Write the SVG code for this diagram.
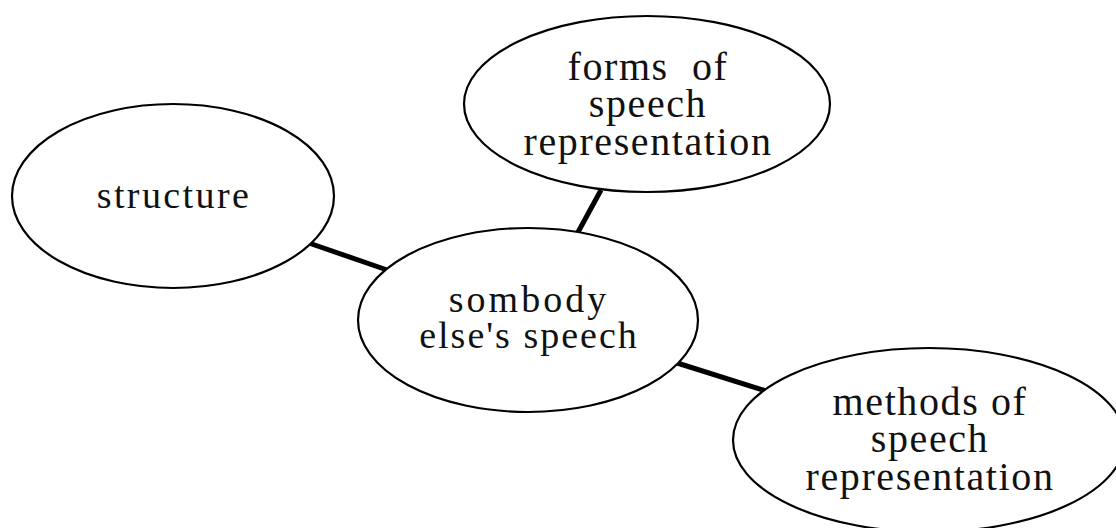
<svg xmlns="http://www.w3.org/2000/svg" width="1116" height="528" viewBox="0 0 1116 528">
<style>
.node ellipse{fill:#fff;stroke:#000;stroke-width:2.2}
.conn line{stroke:#000;stroke-width:5}
text{font-family:"Liberation Serif","Times New Roman",serif;fill:#111;text-anchor:middle;white-space:pre}
.big{font-size:40px;letter-spacing:1.6px}
.mid{font-size:38px}
</style>
<rect width="1116" height="528" fill="#fff"/>
<g id="connectors" class="conn">
<line x1="306" y1="242" x2="390" y2="271"/>
<line x1="601" y1="190" x2="577" y2="234"/>
<line x1="674" y1="362" x2="766" y2="391"/>
</g>
<g id="node-structure" class="node">
<ellipse cx="173" cy="196" rx="161" ry="92"/>
<text class="mid" x="174" y="208" letter-spacing="2.4">structure</text>
</g>
<g id="node-forms" class="node">
<ellipse cx="647" cy="104" rx="183" ry="88"/>
<text class="big" x="648" y="80">forms  of</text>
<text class="big" x="648" y="117">speech</text>
<text class="big" x="648" y="155">representation</text>
</g>
<g id="node-center" class="node">
<ellipse cx="528" cy="320" rx="170" ry="92"/>
<text class="mid" x="529" y="312" letter-spacing="3">sombody</text>
<text class="mid" x="529" y="348" letter-spacing="2">else's speech</text>
</g>
<g id="node-methods" class="node">
<ellipse cx="929" cy="440" rx="196" ry="92"/>
<text class="big" x="930" y="415">methods of</text>
<text class="big" x="930" y="452">speech</text>
<text class="big" x="930" y="490">representation</text>
</g>
</svg>
